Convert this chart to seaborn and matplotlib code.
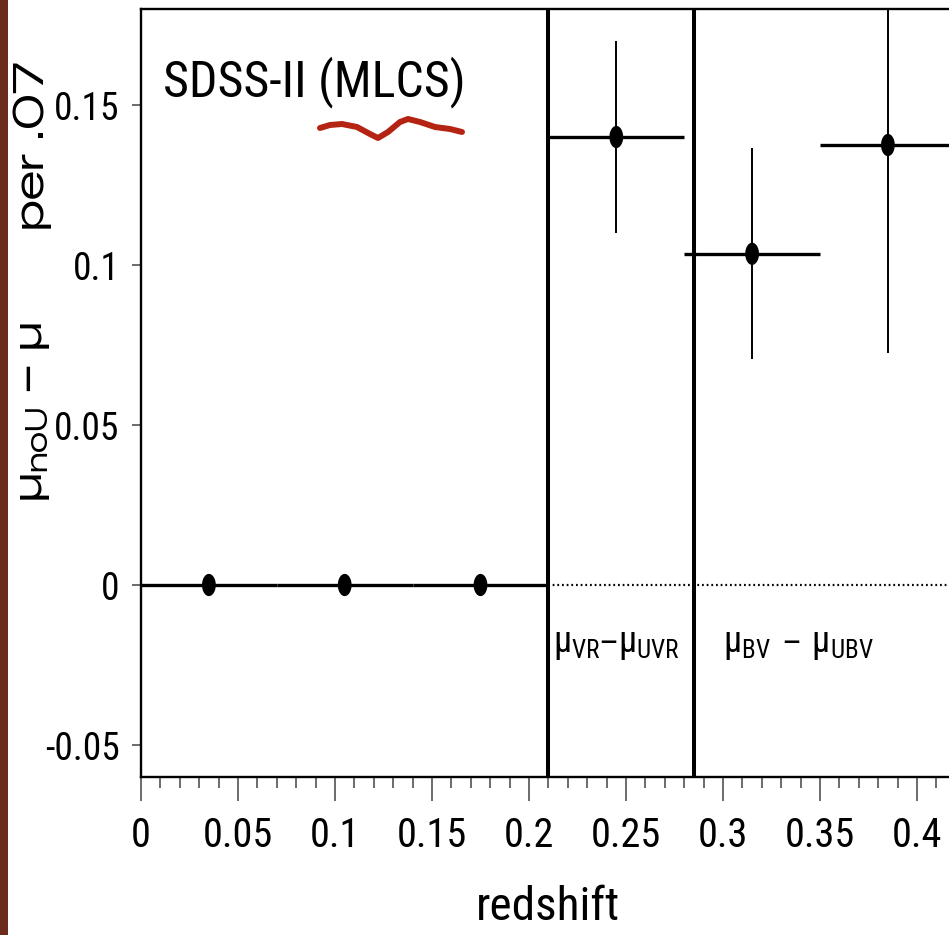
import numpy as np
import pandas as pd
import seaborn as sns
import matplotlib
matplotlib.use("Agg")
import matplotlib.pyplot as plt
from matplotlib.path import Path
from matplotlib.lines import Line2D
from matplotlib.patches import Rectangle
from matplotlib import font_manager

# ---- data: Hubble-residual shift from dropping U band, per redshift bin ----
z_bin = [0.035, 0.105, 0.175, 0.245, 0.315, 0.385]
dmu = [0.0, 0.0, 0.0, 0.140, 0.1035, 0.1375]
dmu_err = [0.0, 0.0, 0.0, 0.030, 0.033, 0.065]
bin_half_width = 0.035
dividers = [0.21, 0.285]

x_ticks = [0, 0.05, 0.1, 0.15, 0.2, 0.25, 0.3, 0.35, 0.4]
x_tick_labels = ["0", "0.05", "0.1", "0.15", "0.2", "0.25", "0.3", "0.35", "0.4"]
y_ticks = [-0.05, 0, 0.05, 0.1, 0.15]
y_tick_labels = ["-0.05", "0", "0.05", "0.1", "0.15"]


def first_font(candidates, fallback):
    names = {f.name for f in font_manager.fontManager.ttflist}
    for c in candidates:
        if c in names:
            return c
    return fallback


sns.set_theme(style="ticks")
narrow = first_font(["Roboto Condensed", "Liberation Sans Narrow"], "Liberation Sans")
wide = first_font(["Zalando Sans Expanded", "Zalando Sans SemiExpanded"], "Liberation Sans")
plt.rcParams["font.family"] = [narrow, "DejaVu Sans"]
plt.rcParams["mathtext.default"] = "regular"
for key in ["text.color", "axes.labelcolor", "xtick.labelcolor", "ytick.labelcolor"]:
    plt.rcParams[key] = "black"

df = pd.DataFrame({"z": z_bin, "dmu": dmu, "err": dmu_err})

W, H = 949, 935
fig = plt.figure(figsize=(W / 100, H / 100), dpi=100)
fig.patch.set_facecolor("white")

x_max = 0.42
ax = fig.add_axes([141 / W, (H - 777) / H, x_max * 1940 / W, 768 / H])
ax.set_xlim(0, x_max)
ax.set_ylim(-0.06, 0.18)

# bin widths (thick) and measurement errors (thin)
ax.errorbar(df["z"], df["dmu"], xerr=bin_half_width, fmt="none",
            ecolor="black", elinewidth=2.4, capsize=0, zorder=3)
sub = df[df["err"] > 0]
ax.errorbar(sub["z"], sub["dmu"], yerr=sub["err"], fmt="none",
            ecolor="black", elinewidth=1.4, capsize=0, zorder=3)

# slightly tall elliptical point marker
t = np.linspace(0, 2 * np.pi, 60)
ellipse = Path(np.column_stack([0.62 * np.cos(t), np.sin(t)]), closed=True)
sns.scatterplot(data=df, x="z", y="dmu", marker=ellipse, s=16 ** 2,
                color="black", edgecolor="none", ax=ax, zorder=4, legend=False)

# zero line beyond the reference bins and the filter-set dividers
ax.hlines(0, dividers[0], x_max, colors="black", linewidth=1.6,
          linestyles=(0, (0.8, 1.3)), zorder=2)
for d in dividers:
    ax.axvline(d, color="black", linewidth=2.9, zorder=2)

ax.text(0.2125, -0.0185, r"$\mathregular{μ_{VR}–μ_{UVR}}$", fontsize=26,
        ha="left", va="center")
ax.text(0.300, -0.0185, r"$\mathregular{μ_{BV}\ –\ μ_{UBV}}$", fontsize=26,
        ha="left", va="center")
ax.text(0.0113, 0.157, "SDSS-II (MLCS)", fontsize=36, ha="left", va="center")

ax.set_xticks(x_ticks)
ax.set_xticklabels(x_tick_labels)
ax.set_xticks(np.arange(0, x_max + 1e-9, 0.01), minor=True)
ax.set_yticks(y_ticks)
ax.set_yticklabels(y_tick_labels)
ax.tick_params(axis="x", which="major", direction="out", length=17, width=1.1,
               color="#444444", labelsize=29, pad=11)
ax.tick_params(axis="x", which="minor", direction="out", length=8, width=1.1,
               color="#444444")
ax.tick_params(axis="y", which="major", direction="out", length=6.5, width=1.1,
               color="#444444", labelsize=27, pad=9)
for side in ["left", "bottom", "top", "right"]:
    ax.spines[side].set_linewidth(1.7)
    ax.spines[side].set_color("black")
ax.set_xlabel("redshift", fontsize=34, labelpad=22)
ax.set_ylabel("")

# rotated y-axis caption, in two parts along the left margin
ylab = dict(rotation=90, ha="center", va="center", fontsize=30,
            family=[wide, "DejaVu Sans"])
fig.text(33 / W, 1 - 412 / H, "µ$_{noU}$ − µ", **ylab)
fig.text(33 / W, 1 - 146 / H, "per .07", **ylab)

# page edge on the left
fig.add_artist(Rectangle((0, 0), 8 / W, 1, transform=fig.transFigure,
                         facecolor="#6b2c1c", edgecolor="none", zorder=10))

# hand-drawn red underline below the method name
squiggle_px = [(320, 128), (330, 125), (342, 124), (357, 127), (370, 134),
               (378, 138), (388, 132), (400, 122), (408, 119), (420, 122),
               (435, 127), (450, 129), (462, 132)]
sx = [p[0] / W for p in squiggle_px]
sy = [1 - p[1] / H for p in squiggle_px]
fig.add_artist(Line2D(sx, sy, transform=fig.transFigure, color="#b52412",
                      linewidth=4.3, solid_capstyle="round",
                      solid_joinstyle="round", zorder=10))

fig.savefig("out.png", dpi=100)
